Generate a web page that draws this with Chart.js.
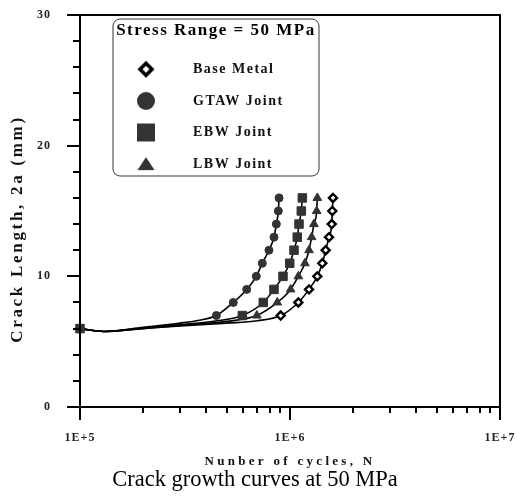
<!DOCTYPE html>
<html>
<head>
<meta charset="utf-8">
<script src="https://cdn.jsdelivr.net/npm/chart.js@4/dist/chart.umd.min.js"></script>
<style>
html, body { margin: 0; padding: 0; background: #fff; }
#wrap { position: relative; width: 517px; height: 497px; }
</style>
</head>
<body>
<div id="wrap"><canvas id="c" width="517" height="497"></canvas></div>
<script>
// ---- texts ----
const seriesNames = ['Base Metal', 'GTAW Joint', 'EBW Joint', 'LBW Joint'];
const legendTitle = 'Stress Range = 50 MPa';
const xTitle = 'Nunber of cycles, N';
const yTitle = 'Crack Length, 2a (mm)';
const caption = 'Crack growth curves at 50 MPa';

// ---- ticks ----
const xTickValues = [1e5, 1e6, 1e7];
const xTickLabels = ['1E+5', '1E+6', '1E+7'];
const yTickValues = [0, 10, 20, 30];
const yTickLabels = ['0', '10', '20', '30'];

// ---- series: cycles N and crack length 2a (mm) ----
const baseMetalN = [100000, 130000, 200000, 300000, 500000, 700000, 903000, 1096000, 1232000, 1349000, 1425000, 1479000, 1534000, 1580000, 1590000, 1602000];
const baseMetalA = [6, 5.78, 6.0, 6.2, 6.42, 6.6, 7, 8, 9, 10, 11, 12, 13, 14, 15, 16];
const gtawN = [100000, 130000, 200000, 300000, 370000, 446000, 537000, 622000, 691000, 738000, 794000, 839000, 861000, 880000, 887000];
const gtawA = [6, 5.78, 6.1, 6.42, 6.64, 7, 8, 9, 10, 11, 12, 13, 14, 15, 16];
const ebwN = [100000, 130000, 200000, 300000, 450000, 593000, 746000, 839000, 926000, 997000, 1045000, 1083000, 1104000, 1132000, 1145000];
const ebwA = [6, 5.78, 6.05, 6.3, 6.6, 7, 8, 9, 10, 11, 12, 13, 14, 15, 16];
const lbwN = [100000, 130000, 200000, 300000, 500000, 695000, 870000, 1007000, 1096000, 1178000, 1232000, 1268000, 1300000, 1340000, 1349000];
const lbwA = [6, 5.78, 6.02, 6.25, 6.55, 7, 8, 9, 10, 11, 12, 13, 14, 15, 16];

// ---- letter spacing helpers (the reference text is widely spaced) ----
function spaced(proto, name, spFn, dy) {
  if (!proto || !proto[name]) return;
  const orig = proto[name];
  proto[name] = function (...args) {
    const c = this.ctx;
    c.save();
    c.letterSpacing = typeof spFn === 'function' ? spFn(this) : spFn;
    if (dy && this.axis === 'y') c.translate(0, dy);
    try { return orig.apply(this, args); } finally { c.restore(); }
  };
}
spaced(Chart.Scale.prototype, 'drawLabels', '1px');
spaced(Chart.Scale.prototype, 'drawTitle', (s) => s.axis === 'x' ? '3.3px' : '2.7px', 18);
if (Chart.Legend && Chart.Legend._element) spaced(Chart.Legend._element.prototype, 'draw', '1.5px');

// ---- legend marker images ----
function markerCanvas(kind) {
  const c = document.createElement('canvas');
  c.width = 22; c.height = 22;
  const g = c.getContext('2d');
  g.translate(11, 11);
  g.fillStyle = '#333';
  g.beginPath();
  if (kind === 'diamond') {
    g.moveTo(0, -6); g.lineTo(6, 0); g.lineTo(0, 6); g.lineTo(-6, 0); g.closePath();
    g.fillStyle = '#fff'; g.fill();
    g.lineWidth = 3.6; g.strokeStyle = '#000'; g.stroke();
  } else if (kind === 'circle') {
    g.arc(0, 0, 9, 0, Math.PI * 2); g.fill();
  } else if (kind === 'square') {
    g.rect(-9, -9, 18, 18); g.fill();
  } else {
    g.moveTo(0, -7); g.lineTo(8.5, 6); g.lineTo(-8.5, 6); g.closePath(); g.fill();
  }
  return c;
}
const legendMarkers = [markerCanvas('diamond'), markerCanvas('circle'), markerCanvas('square'), markerCanvas('triangle')];

// ---- dataset construction ----
const markStyles = [
  { pointStyle: 'rectRot', r: 4, bg: '#fff', bd: '#000', bw: 2.4, order: 1 },
  { pointStyle: 'circle', r: 4, bg: '#333', bd: '#333', bw: 1, order: 1 },
  { pointStyle: 'rect', r: 6, bg: '#333', bd: '#333', bw: 1, order: 0 },
  { pointStyle: 'triangle', r: 5, bg: '#333', bd: '#333', bw: 1, order: 1 }
];
const seriesN = [baseMetalN, gtawN, ebwN, lbwN];
const seriesA = [baseMetalA, gtawA, ebwA, lbwA];

const datasets = seriesNames.map((name, k) => {
  const st = markStyles[k];
  return {
    label: name,
    data: seriesN[k].map((n, i) => ({ x: n, y: seriesA[k][i] })),
    borderColor: '#000',
    borderWidth: 1.6,
    cubicInterpolationMode: 'monotone',
    fill: false,
    clip: false,
    order: st.order,
    pointStyle: st.pointStyle,
    pointBackgroundColor: st.bg,
    pointBorderColor: st.bd,
    pointBorderWidth: st.bw,
    pointRadius: (ctx) => (ctx.dataIndex === 0 || (ctx.raw && ctx.raw.y >= 7)) ? st.r : 0,
    pointHoverRadius: (ctx) => (ctx.dataIndex === 0 || (ctx.raw && ctx.raw.y >= 7)) ? st.r : 0
  };
});

// ---- plugins ----
const frameTicks = {
  id: 'frameTicks',
  afterDraw(chart) {
    const { ctx, chartArea: ca, scales: { x, y } } = chart;
    ctx.save();
    ctx.strokeStyle = '#000';
    ctx.lineWidth = 2;
    ctx.strokeRect(ca.left, ca.top, ca.right - ca.left, ca.bottom - ca.top);
    ctx.beginPath();
    for (let v = y.min; v <= y.max + 1e-9; v += 2) {
      const py = Math.round(y.getPixelForValue(v));
      const len = yTickValues.includes(v) ? 13 : 7;
      ctx.moveTo(ca.left - len, py); ctx.lineTo(ca.left, py);
    }
    const d0 = Math.round(Math.log10(x.min)), d1 = Math.round(Math.log10(x.max));
    for (let d = d0; d <= d1; d++) {
      for (let m = 1; m < 10; m++) {
        const v = m * Math.pow(10, d);
        if (v > x.max * 1.0001) break;
        const px = Math.round(x.getPixelForValue(v));
        const len = m === 1 ? 13 : 6;
        ctx.moveTo(px, ca.bottom); ctx.lineTo(px, ca.bottom + len);
      }
    }
    ctx.stroke();
    ctx.restore();
  }
};

const legendPlace = {
  id: 'legendPlace',
  afterLayout(chart) {
    const lg = chart.legend;
    if (!lg) return;
    lg.left = 88.4; lg.width = 255; lg.right = lg.left + lg.width;
    lg.top = 18; lg.height = 180; lg.bottom = lg.top + lg.height;
  },
  afterDraw(chart) {
    const lg = chart.legend;
    if (!lg) return;
    const ctx = chart.ctx;
    const x0 = lg.left + 24.6, y0 = lg.top + 1, w = 206, h = 157, r = 7;
    ctx.save();
    ctx.strokeStyle = '#333';
    ctx.lineWidth = 1;
    ctx.beginPath();
    ctx.moveTo(x0 + r, y0);
    ctx.arcTo(x0 + w, y0, x0 + w, y0 + h, r);
    ctx.arcTo(x0 + w, y0 + h, x0, y0 + h, r);
    ctx.arcTo(x0, y0 + h, x0, y0, r);
    ctx.arcTo(x0, y0, x0 + w, y0, r);
    ctx.closePath();
    ctx.stroke();
    ctx.restore();
  }
};

function zeroPad(s) { s.paddingTop = 0; s.paddingBottom = 0; s.paddingLeft = 0; s.paddingRight = 0; }

const serif = "'Liberation Serif', 'Times New Roman', serif";

new Chart(document.getElementById('c'), {
  type: 'line',
  data: { datasets },
  plugins: [frameTicks, legendPlace],
  options: {
    responsive: false,
    animation: false,
    events: [],
    layout: { autoPadding: false, padding: { top: 15, right: 17, left: 10, bottom: 0 } },
    scales: {
      x: {
        type: 'logarithmic',
        min: 1e5,
        max: 1e7,
        afterBuildTicks: (s) => { s.ticks = xTickValues.map(v => ({ value: v })); },
        afterFit: (s) => { s.height = 60; zeroPad(s); },
        grid: { display: false, drawTicks: false },
        border: { display: false },
        ticks: {
          autoSkip: false,
          maxRotation: 0,
          padding: 24,
          color: '#222',
          font: { family: serif, size: 12, weight: 'bold' },
          callback: (v) => { const i = xTickValues.indexOf(v); return i >= 0 ? xTickLabels[i] : ''; }
        },
        title: {
          display: true,
          text: xTitle,
          color: '#111',
          font: { family: serif, size: 13, weight: 'bold', lineHeight: 0.8 },
          padding: { top: 0, bottom: 0 }
        }
      },
      y: {
        type: 'linear',
        min: 0,
        max: 30,
        afterBuildTicks: (s) => { s.ticks = yTickValues.map(v => ({ value: v })); },
        afterFit: (s) => { s.width = 70; zeroPad(s); },
        grid: { display: false, drawTicks: false },
        border: { display: false },
        ticks: {
          padding: 29,
          color: '#222',
          font: { family: serif, size: 12, weight: 'bold' },
          callback: (v) => { const i = yTickValues.indexOf(v); return i >= 0 ? yTickLabels[i] : ''; }
        },
        title: {
          display: true,
          text: yTitle,
          color: '#111',
          font: { family: serif, size: 17, weight: 'bold', lineHeight: 1.2 },
          padding: { top: -3, bottom: 0 }
        }
      }
    },
    plugins: {
      tooltip: { enabled: false },
      title: {
        display: true,
        position: 'bottom',
        text: caption,
        color: '#000',
        font: { family: serif, size: 22.5, weight: 'normal', lineHeight: 1.1 },
        padding: { top: 0.6, bottom: 4.65 }
      },
      legend: {
        display: true,
        position: 'chartArea',
        align: 'start',
        title: {
          display: true,
          text: legendTitle,
          position: 'center',
          color: '#000',
          font: { family: serif, size: 17, weight: 'bold', lineHeight: 1.2 },
          padding: { top: 4, bottom: 2.3 }
        },
        labels: {
          usePointStyle: true,
          pointStyleWidth: 80,
          boxHeight: 14,
          padding: 17.6,
          textAlign: 'left',
          color: '#111',
          font: { family: serif, size: 14, weight: 'bold' },
          generateLabels: (chart) => seriesNames.map((name, i) => ({
            text: name,
            pointStyle: legendMarkers[i],
            fillStyle: '#333',
            strokeStyle: '#000',
            lineWidth: 0,
            hidden: false,
            datasetIndex: i,
            fontColor: '#111'
          }))
        }
      }
    }
  }
});
</script>
</body>
</html>
